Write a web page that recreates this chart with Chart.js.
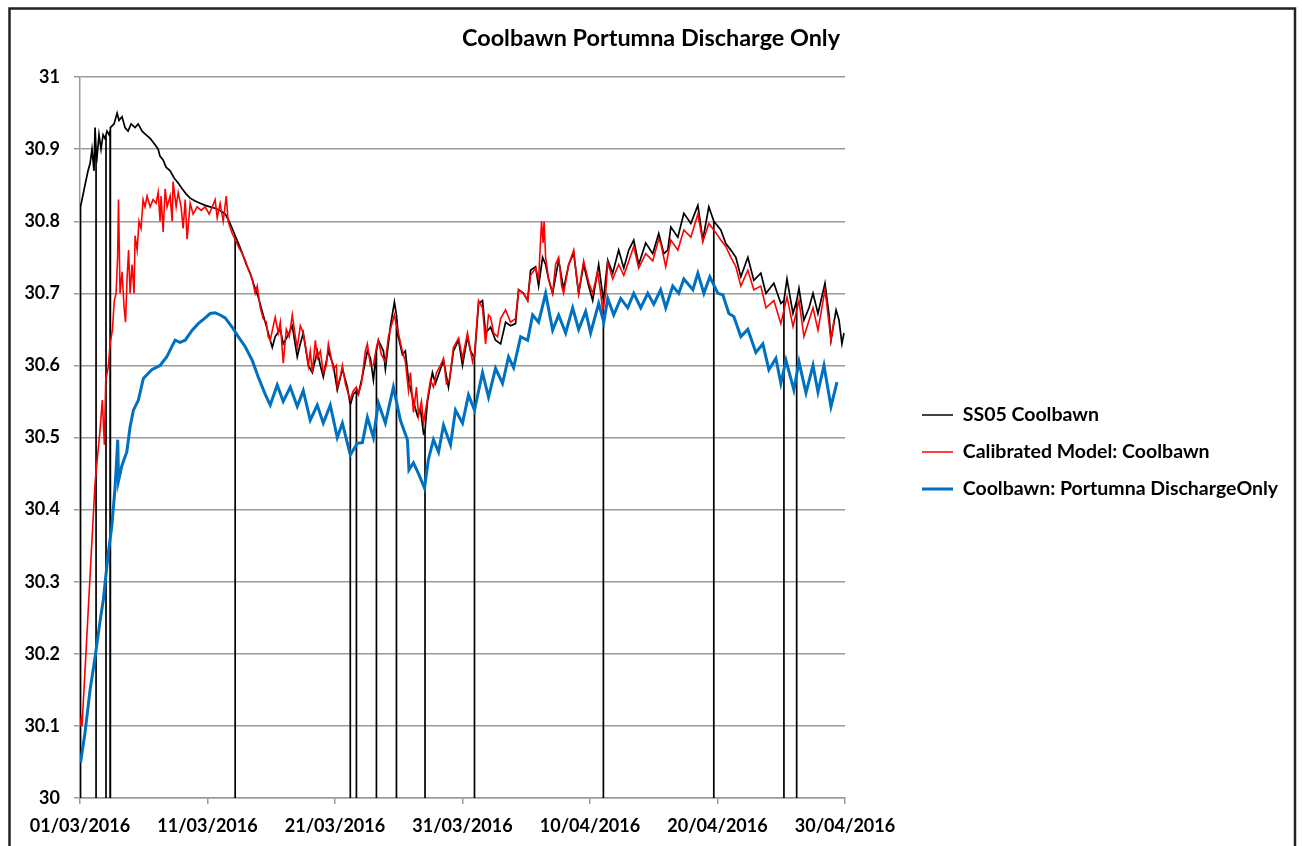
<!DOCTYPE html>
<html>
<head>
<meta charset="utf-8">
<script src="https://cdn.jsdelivr.net/npm/chart.js@4.4.1/dist/chart.umd.min.js"></script>
<style>
  html, body { margin: 0; padding: 0; background: #fff; }
</style>
</head>
<body>
<canvas id="chartCoolbawn" width="1302" height="846"></canvas>
<script>
// hari sejak 01/03/2016 (x) dan level air (y)
const ss05Days = [
  0.04, 0.39, 0.63, 0.79, 0.94, 1.10, 1.18, 1.26, 1.34, 1.49,
  1.65, 1.81, 1.96, 2.04, 2.12, 2.28, 2.36, 2.43, 2.67, 2.91,
  3.06, 3.30, 3.53, 3.77, 4.01, 4.32, 4.56, 4.87, 5.18, 5.50,
  5.89, 6.13, 6.28, 6.52, 6.75, 7.07, 7.38, 7.70, 8.01, 8.32,
  8.64, 9.03, 9.42, 9.82, 10.21, 10.60, 10.99, 11.39, 11.70, 11.94,
  12.17, 12.41, 12.72, 13.04, 13.35, 13.67, 13.98, 14.29, 14.61, 14.84,
  15.08, 15.31, 15.71, 15.94, 16.26, 16.65, 17.04, 17.28, 17.51, 17.91,
  18.22, 18.61, 18.85, 19.08, 19.48, 19.87, 20.18, 20.58, 20.97, 21.20,
  21.44, 21.68, 21.83, 22.15, 22.54, 22.78, 23.01, 23.25, 23.40, 23.80,
  23.95, 24.35, 24.66, 24.82, 24.97, 25.29, 25.52, 25.76, 26.15, 26.47,
  26.70, 26.94, 27.06, 27.25, 27.64, 27.88, 28.27, 28.51, 28.90, 29.29,
  29.69, 30.00, 30.39, 30.63, 30.94, 31.26, 31.57, 31.81, 32.20, 32.59,
  32.99, 33.38, 33.77, 34.16, 34.40, 34.79, 35.11, 35.34, 35.73, 35.97,
  36.28, 36.52, 36.75, 37.07, 37.54, 37.93, 38.33, 38.72, 39.11, 39.50,
  39.90, 40.21, 40.68, 41.05, 41.39, 41.78, 42.25, 42.65, 43.04, 43.43,
  43.82, 44.37, 44.92, 45.39, 45.79, 46.10, 46.34, 46.89, 47.36, 47.91,
  48.46, 48.85, 49.32, 49.71, 50.26, 50.65, 51.05, 51.44, 51.83, 52.38,
  52.85, 53.40, 53.80, 54.42, 54.97, 55.21, 55.45, 55.92, 56.21, 56.39,
  56.78, 57.18, 57.49, 57.88, 58.43, 58.75, 58.90, 59.30, 59.53, 59.76,
  59.92
];
const ss05 = [
  30.82, 30.85, 30.87, 30.88, 30.90, 30.87, 30.93, 30.90, 30.89, 30.92,
  30.90, 30.92, 30.915, 30.92, 30.925, 30.92, 30.925, 30.93, 30.935, 30.95,
  30.94, 30.945, 30.93, 30.925, 30.935, 30.93, 30.935, 30.925, 30.92, 30.915,
  30.906, 30.90, 30.89, 30.885, 30.875, 30.87, 30.86, 30.853, 30.845, 30.838,
  30.832, 30.828, 30.825, 30.822, 30.82, 30.818, 30.815, 30.81, 30.80, 30.79,
  30.78, 30.77, 30.756, 30.74, 30.728, 30.71, 30.695, 30.675, 30.655, 30.64,
  30.625, 30.64, 30.65, 30.63, 30.64, 30.655, 30.612, 30.63, 30.645, 30.60,
  30.59, 30.62, 30.60, 30.584, 30.62, 30.60, 30.566, 30.595, 30.57, 30.545,
  30.56, 30.565, 30.56, 30.585, 30.62, 30.61, 30.58, 30.62, 30.635, 30.62,
  30.595, 30.655, 30.688, 30.67, 30.64, 30.615, 30.62, 30.58, 30.55, 30.53,
  30.54, 30.506, 30.51, 30.55, 30.59, 30.575, 30.595, 30.607, 30.57, 30.62,
  30.635, 30.60, 30.64, 30.62, 30.61, 30.686, 30.69, 30.645, 30.653, 30.635,
  30.63, 30.66, 30.655, 30.658, 30.705, 30.70, 30.69, 30.732, 30.737, 30.71,
  30.75, 30.74, 30.72, 30.70, 30.746, 30.706, 30.74, 30.756, 30.70, 30.74,
  30.71, 30.69, 30.74, 30.69, 30.746, 30.728, 30.76, 30.735, 30.76, 30.774,
  30.74, 30.77, 30.755, 30.783, 30.755, 30.76, 30.792, 30.778, 30.811, 30.797,
  30.822, 30.774, 30.82, 30.80, 30.788, 30.769, 30.76, 30.75, 30.723, 30.75,
  30.718, 30.728, 30.70, 30.714, 30.686, 30.69, 30.72, 30.672, 30.69, 30.707,
  30.663, 30.68, 30.70, 30.672, 30.714, 30.67, 30.635, 30.677, 30.663, 30.63,
  30.645
];
// hari di mana logger SS05 mencatat 0
const ss05Dropouts = [0.04, 1.26, 2.04, 2.36, 12.17, 21.20, 21.68, 23.25, 24.82, 27.06, 30.94, 41.05, 49.71, 55.21, 56.21];

const modelDays = [
  0.04, 0.12, 0.16, 1.18, 1.57, 1.75, 1.91, 2.02, 2.22, 2.36,
  2.54, 2.69, 2.83, 2.95, 3.02, 3.14, 3.30, 3.46, 3.57, 3.69,
  3.81, 3.93, 4.08, 4.24, 4.32, 4.48, 4.63, 4.79, 4.95, 5.10,
  5.26, 5.50, 5.73, 5.97, 6.13, 6.28, 6.36, 6.52, 6.68, 6.83,
  7.07, 7.23, 7.30, 7.54, 7.70, 7.93, 8.09, 8.25, 8.40, 8.64,
  8.87, 9.19, 9.50, 9.82, 10.13, 10.37, 10.60, 10.76, 10.99, 11.23,
  11.47, 11.62, 11.94, 12.17, 12.41, 12.72, 12.96, 13.27, 13.51, 13.74,
  13.90, 14.14, 14.37, 14.61, 14.76, 14.92, 15.16, 15.31, 15.55, 15.71,
  15.94, 16.18, 16.41, 16.65, 16.89, 17.04, 17.28, 17.51, 17.75, 17.91,
  18.06, 18.22, 18.46, 18.61, 18.85, 19.08, 19.32, 19.48, 19.71, 19.87,
  20.11, 20.18, 20.42, 20.58, 20.81, 21.05, 21.20, 21.44, 21.68, 21.83,
  22.07, 22.38, 22.54, 22.78, 23.01, 23.25, 23.40, 23.64, 23.95, 24.19,
  24.42, 24.66, 24.82, 24.97, 25.21, 25.52, 25.76, 25.92, 26.15, 26.39,
  26.55, 26.78, 26.94, 27.17, 27.49, 27.72, 27.96, 28.27, 28.51, 28.74,
  28.98, 29.29, 29.69, 30.00, 30.39, 30.63, 30.79, 30.94, 31.26, 31.57,
  31.81, 32.04, 32.20, 32.44, 32.75, 32.99, 33.38, 33.77, 34.16, 34.40,
  34.79, 35.11, 35.34, 35.73, 35.97, 36.20, 36.32, 36.40, 36.52, 36.75,
  37.07, 37.30, 37.54, 37.78, 37.93, 38.33, 38.72, 38.96, 39.11, 39.50,
  39.90, 40.21, 40.60, 40.84, 41.00, 41.23, 41.39, 41.78, 42.25, 42.65,
  43.04, 43.43, 43.82, 44.37, 44.92, 45.39, 45.54, 45.94, 46.34, 46.89,
  47.36, 47.91, 48.46, 48.85, 49.32, 49.71, 50.26, 50.65, 51.05, 51.44,
  51.83, 52.38, 52.85, 53.40, 53.80, 54.42, 54.97, 55.45, 55.92, 56.39,
  56.78, 57.49, 57.88, 58.43, 58.90, 59.14
];
const model = [
  30.10, 30.115, 30.10, 30.437, 30.51, 30.552, 30.49, 30.58, 30.598, 30.63,
  30.649, 30.69, 30.70, 30.75, 30.83, 30.70, 30.73, 30.68, 30.66, 30.72,
  30.76, 30.70, 30.74, 30.70, 30.78, 30.76, 30.80, 30.79, 30.83, 30.82,
  30.835, 30.82, 30.83, 30.825, 30.84, 30.80, 30.835, 30.785, 30.845, 30.82,
  30.835, 30.80, 30.855, 30.82, 30.84, 30.82, 30.79, 30.83, 30.775, 30.825,
  30.81, 30.82, 30.815, 30.82, 30.81, 30.82, 30.83, 30.805, 30.825, 30.80,
  30.835, 30.80, 30.783, 30.775, 30.765, 30.755, 30.746, 30.73, 30.72, 30.70,
  30.71, 30.68, 30.665, 30.66, 30.64, 30.635, 30.655, 30.667, 30.645, 30.66,
  30.603, 30.65, 30.64, 30.67, 30.64, 30.625, 30.655, 30.645, 30.62, 30.60,
  30.62, 30.59, 30.635, 30.61, 30.62, 30.59, 30.60, 30.63, 30.61, 30.595,
  30.60, 30.57, 30.585, 30.60, 30.575, 30.56, 30.553, 30.565, 30.57, 30.56,
  30.575, 30.62, 30.63, 30.60, 30.60, 30.625, 30.635, 30.615, 30.605, 30.64,
  30.655, 30.67, 30.655, 30.645, 30.625, 30.605, 30.565, 30.59, 30.535, 30.57,
  30.53, 30.55, 30.52, 30.545, 30.58, 30.57, 30.59, 30.60, 30.61, 30.575,
  30.58, 30.625, 30.638, 30.61, 30.645, 30.62, 30.605, 30.615, 30.69, 30.68,
  30.63, 30.67, 30.667, 30.645, 30.64, 30.665, 30.677, 30.66, 30.665, 30.705,
  30.70, 30.69, 30.725, 30.735, 30.72, 30.80, 30.77, 30.80, 30.75, 30.72,
  30.70, 30.74, 30.75, 30.71, 30.70, 30.74, 30.76, 30.72, 30.70, 30.745,
  30.715, 30.70, 30.73, 30.70, 30.675, 30.70, 30.743, 30.72, 30.74, 30.725,
  30.745, 30.765, 30.735, 30.755, 30.745, 30.775, 30.77, 30.737, 30.774, 30.76,
  30.788, 30.778, 30.81, 30.772, 30.797, 30.788, 30.774, 30.765, 30.75, 30.737,
  30.71, 30.732, 30.705, 30.71, 30.68, 30.69, 30.658, 30.695, 30.654, 30.69,
  30.64, 30.68, 30.649, 30.705, 30.635, 30.663
];

const dischargeDays = [
  0.04, 0.39, 0.79, 1.18, 1.57, 1.83, 2.04, 2.22, 2.49, 2.75,
  2.96, 3.02, 3.27, 3.46, 3.67, 3.93, 4.19, 4.58, 4.97, 5.63,
  6.28, 6.81, 7.20, 7.46, 7.85, 8.25, 8.80, 9.27, 9.82, 10.21,
  10.60, 10.99, 11.39, 11.94, 12.41, 12.96, 13.51, 13.98, 14.53, 14.92,
  15.47, 15.94, 16.49, 17.04, 17.51, 18.06, 18.61, 19.08, 19.63, 20.18,
  20.58, 21.20, 21.75, 22.15, 22.54, 23.01, 23.40, 23.95, 24.58, 25.13,
  25.68, 25.80, 26.15, 26.55, 27.02, 27.33, 27.72, 28.12, 28.51, 29.06,
  29.45, 30.00, 30.47, 30.94, 31.57, 32.04, 32.59, 33.14, 33.61, 34.01,
  34.56, 35.11, 35.50, 35.97, 36.52, 37.07, 37.54, 38.09, 38.64, 39.11,
  39.66, 40.05, 40.68, 41.08, 41.39, 41.86, 42.41, 42.96, 43.43, 43.98,
  44.53, 45.00, 45.54, 45.94, 46.49, 46.96, 47.36, 48.07, 48.46, 48.93,
  49.40, 50.03, 50.42, 50.89, 51.28, 51.83, 52.38, 53.01, 53.56, 54.03,
  54.58, 54.97, 55.37, 55.99, 56.39, 56.94, 57.49, 57.88, 58.35, 58.90,
  59.37
];
const discharge = [
  30.049, 30.09, 30.15, 30.195, 30.245, 30.275, 30.31, 30.34, 30.376, 30.43,
  30.497, 30.44, 30.46, 30.47, 30.48, 30.515, 30.538, 30.552, 30.582, 30.594,
  30.60, 30.612, 30.626, 30.635, 30.632, 30.635, 30.649, 30.658, 30.666, 30.672,
  30.673, 30.67, 30.666, 30.653, 30.64, 30.626, 30.607, 30.584, 30.56, 30.545,
  30.573, 30.55, 30.57, 30.543, 30.565, 30.524, 30.545, 30.52, 30.545, 30.50,
  30.52, 30.476, 30.492, 30.493, 30.528, 30.50, 30.548, 30.52, 30.57, 30.524,
  30.497, 30.455, 30.465, 30.45, 30.43, 30.47, 30.497, 30.48, 30.517, 30.49,
  30.538, 30.52, 30.559, 30.538, 30.59, 30.556, 30.596, 30.575, 30.612, 30.597,
  30.64, 30.635, 30.67, 30.66, 30.70, 30.649, 30.67, 30.645, 30.68, 30.65,
  30.675, 30.645, 30.686, 30.66, 30.693, 30.67, 30.693, 30.68, 30.70, 30.68,
  30.70, 30.685, 30.705, 30.68, 30.71, 30.70, 30.72, 30.705, 30.728, 30.70,
  30.723, 30.70, 30.698, 30.672, 30.668, 30.64, 30.65, 30.618, 30.63, 30.594,
  30.61, 30.575, 30.607, 30.566, 30.605, 30.562, 30.60, 30.563, 30.60, 30.543,
  30.577
];

const seriesLabels = ["SS05 Coolbawn", "Calibrated Model: Coolbawn", "Coolbawn: Portumna DischargeOnly"];
const yTicks = [30, 30.1, 30.2, 30.3, 30.4, 30.5, 30.6, 30.7, 30.8, 30.9, 31];
const startDate = Date.UTC(2016, 2, 1);
const FONT = "Lato";
const LEGEND_SIZE = 19.5;

const toPoints = (days, vals) => days.map((d, i) => ({ x: d, y: vals[i] }));

// data SS05 + garis drop ke 0
const ss05Points = [];
ss05Days.forEach((d, i) => {
    ss05Points.push({ x: d, y: ss05[i] });
    if (ss05Dropouts.includes(d)) {
        ss05Points.push({ x: d, y: 0 }, { x: d, y: ss05[i] });
    }
});

const fmtDate = (d) => {
    const t = new Date(startDate + Math.round(d) * 86400000);
    const dd = String(t.getUTCDate()).padStart(2, "0");
    const mm = String(t.getUTCMonth() + 1).padStart(2, "0");
    return dd + "/" + mm + "/" + t.getUTCFullYear();
};

// bingkai luar ala Excel
const frame = {
    id: "frame",
    beforeDraw(chart) {
        const c = chart.ctx;
        c.save();
        c.fillStyle = "#fff";
        c.fillRect(0, 0, chart.width, chart.height);
        c.strokeStyle = "#222";
        c.lineWidth = 2.5;
        c.strokeRect(9.5, 8.5, 1285.5, 900);
        c.restore();
    }
};

// legenda di kanan, lebar tetap supaya area plot berakhir di x=845
const LEGEND_W = 1302 - 845;
const legendPlace = {
    id: "legendPlace",
    afterInit(chart) {
        const lg = chart.legend;
        const fit = lg.fit;
        lg.fit = function () {
            fit.call(this);
            this.width = LEGEND_W;
        };
    },
    afterLayout(chart) {
        const lg = chart.legend;
        const pad = lg.options.labels.padding;
        lg.left = 922 - pad;
        lg.top = 415 - LEGEND_SIZE / 2 - pad;
    }
};

const chart = new Chart(document.getElementById("chartCoolbawn").getContext("2d"), {
    type: "line",
    data: {
        datasets: [
            { label: seriesLabels[0], data: ss05Points, borderColor: "#000", backgroundColor: "#000",
              borderWidth: 1.7, pointRadius: 0, pointStyle: "line", tension: 0, order: 3 },
            { label: seriesLabels[1], data: toPoints(modelDays, model), borderColor: "#ff0000", backgroundColor: "#ff0000",
              borderWidth: 1.6, pointRadius: 0, pointStyle: "line", tension: 0, order: 2 },
            { label: seriesLabels[2], data: toPoints(dischargeDays, discharge), borderColor: "#0070c0", backgroundColor: "#0070c0",
              borderWidth: 3, pointRadius: 0, pointStyle: "line", tension: 0, order: 1 }
        ]
    },
    options: {
        responsive: false,
        animation: false,
        events: [],
        layout: { padding: 0 },
        scales: {
            x: {
                type: "linear",
                min: 0,
                max: 60,
                afterFit: (s) => { s.height = 48; },
                ticks: {
                    stepSize: 10,
                    padding: 11,
                    maxRotation: 0,
                    color: "#000",
                    font: { family: FONT, size: 18, weight: "bold" },
                    callback: (v) => fmtDate(v)
                },
                grid: { drawOnChartArea: false, drawTicks: true, tickLength: 6, color: "#9a9a9a", lineWidth: 1.5 },
                border: { color: "#9a9a9a", width: 1.5 }
            },
            y: {
                min: 30,
                max: 31,
                afterFit: (s) => { s.width = 80; },
                afterBuildTicks: (s) => { s.ticks = yTicks.map(v => ({ value: v })); },
                ticks: {
                    padding: 14,
                    color: "#000",
                    font: { family: FONT, size: 18, weight: "bold" },
                    callback: (v) => String(Math.round(v * 10) / 10)
                },
                grid: { color: "#9a9a9a", lineWidth: 1.5, tickLength: 6 },
                border: { color: "#9a9a9a", width: 1.5 }
            }
        },
        plugins: {
            title: {
                display: true,
                text: "Coolbawn Portumna Discharge Only",
                color: "#000",
                font: { family: FONT, size: 23.4, weight: "bold" },
                padding: { top: 24, bottom: 25 }
            },
            legend: {
                display: true,
                position: "right",
                align: "start",
                labels: {
                    usePointStyle: true,
                    pointStyleWidth: 31,
                    padding: 37 - LEGEND_SIZE,
                    color: "#000",
                    font: { family: FONT, size: LEGEND_SIZE, weight: "bold" },
                    sort: (a, b) => a.datasetIndex - b.datasetIndex
                }
            },
            tooltip: { enabled: false }
        }
    },
    plugins: [frame, legendPlace]
});
</script>
</body>
</html>
